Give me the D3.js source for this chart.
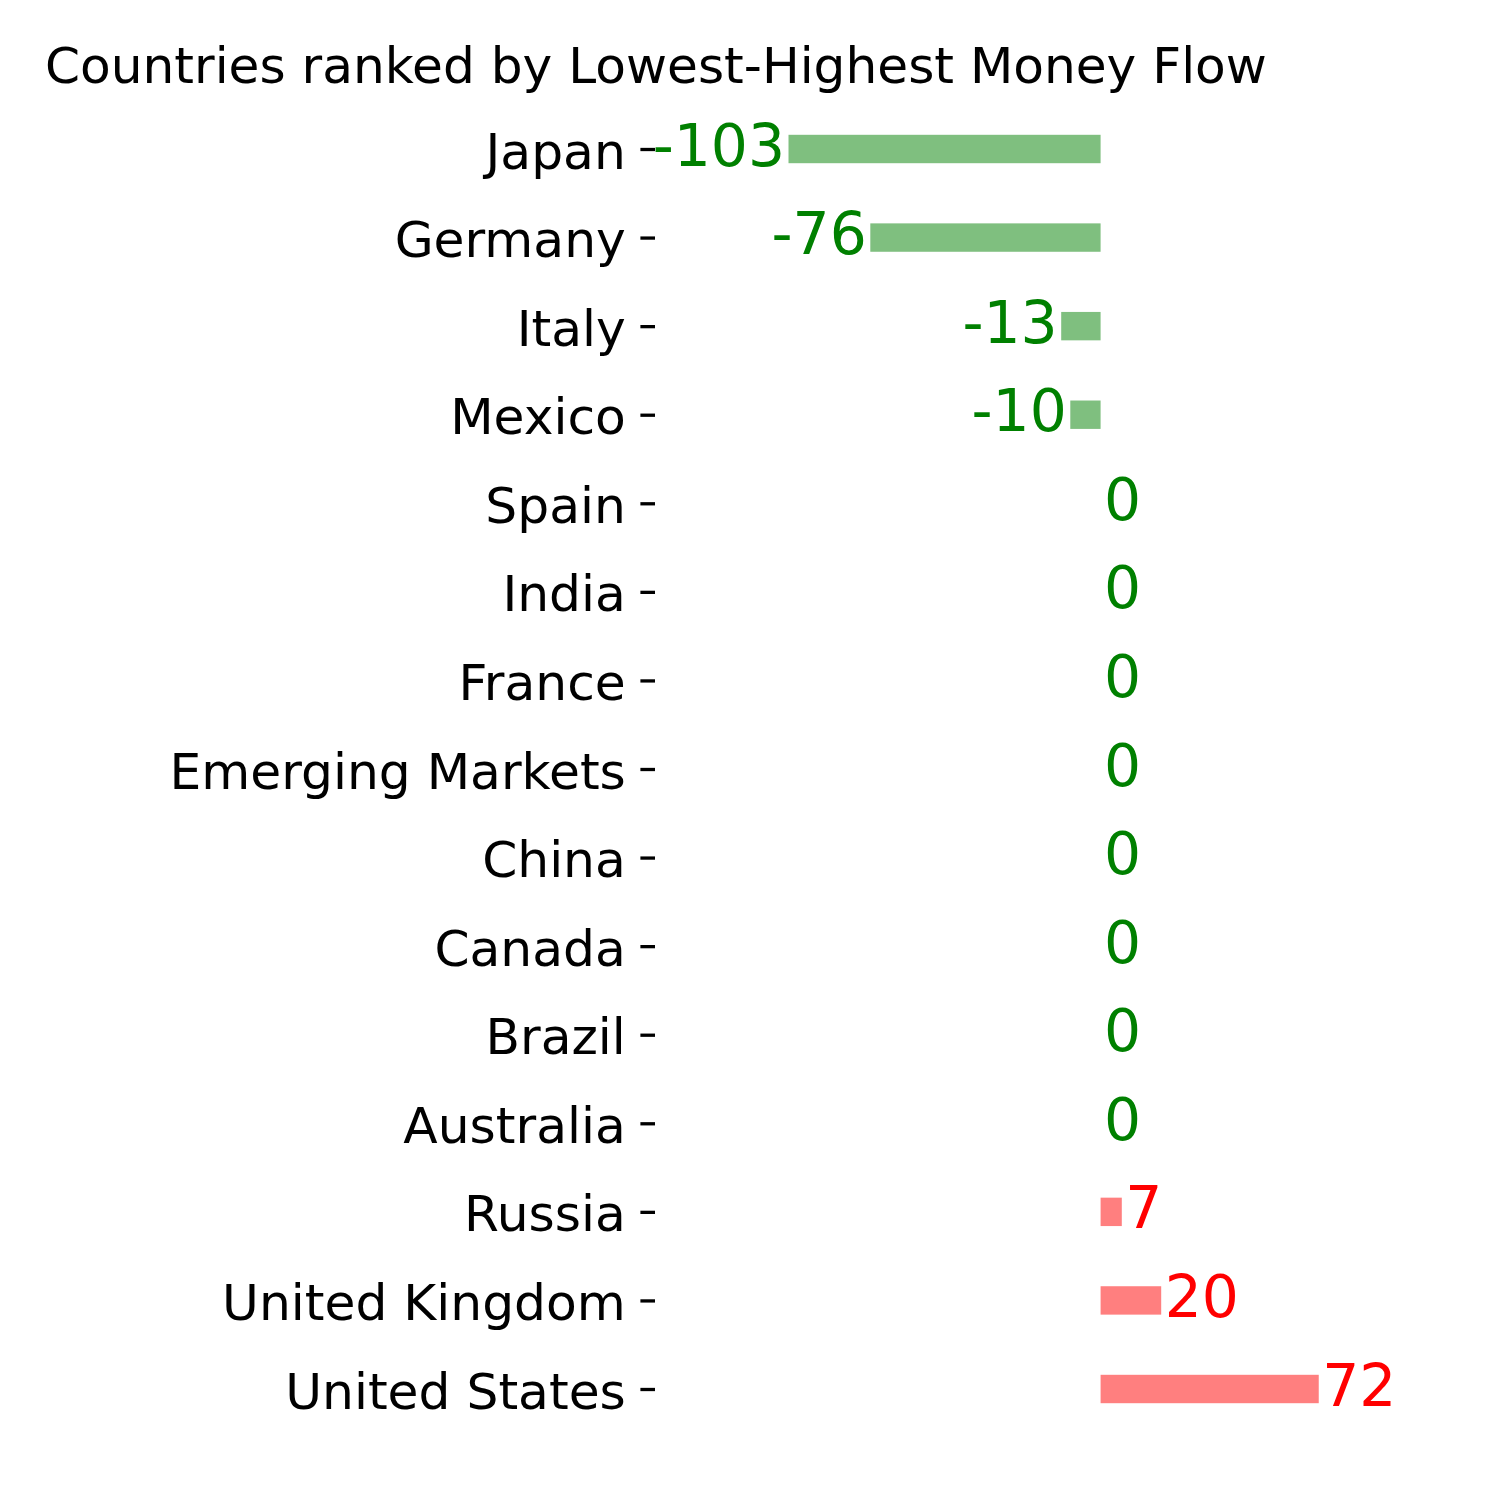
<!DOCTYPE html>
<html>
<head>
<meta charset="utf-8">
<script src="https://cdn.jsdelivr.net/npm/d3@7"></script>
<style>
  html, body { margin: 0; padding: 0; background: #ffffff; }
  svg { display: block; font-family: "DejaVu Sans", sans-serif; }
</style>
</head>
<body>
<script>
const titleText = "Countries ranked by Lowest-Highest Money Flow";
const countries = ["Japan", "Germany", "Italy", "Mexico", "Spain", "India", "France",
  "Emerging Markets", "China", "Canada", "Brazil", "Australia", "Russia",
  "United Kingdom", "United States"];
const values = [-103, -76, -13, -10, 0, 0, 0, 0, 0, 0, 0, 0, 7, 20, 72];

const W = 1500, H = 1500;
const svg = d3.select("body").append("svg").attr("width", W).attr("height", H);

svg.append("rect").attr("width", W).attr("height", H).attr("fill", "#ffffff");

const x = d3.scaleLinear().domain([-103, 72]).range([788.5, 1318.75]);
const y = d3.scalePoint().domain(countries).range([149, 1389]);
const barH = 28.4;

const data = countries.map((c, i) => ({ c, v: values[i] }));

// bars
svg.append("g").selectAll("rect").data(data).enter().append("rect")
  .attr("x", d => Math.min(x(0), x(d.v)))
  .attr("y", d => y(d.c) - barH / 2)
  .attr("width", d => Math.abs(x(d.v) - x(0)))
  .attr("height", barH)
  .attr("fill", d => d.v > 0 ? "#ff0000" : "#008000")
  .attr("fill-opacity", 0.5);

// value labels
svg.append("g").selectAll("text").data(data).enter().append("text")
  .attr("x", d => d.v < 0 ? x(d.v) - 3.5 : x(d.v) + 3.5)
  .attr("y", d => y(d.c) + 16.5)
  .attr("text-anchor", d => d.v < 0 ? "end" : "start")
  .attr("font-size", "58.3px")
  .attr("fill", d => d.v > 0 ? "#ff0000" : "#008000")
  .text(d => d.v);

// y axis
const yAxis = d3.axisLeft(y).tickSize(14.6).tickPadding(14.6);
const ag = svg.append("g").attr("transform", "translate(655,0)").call(yAxis);
ag.select(".domain").remove();
ag.selectAll(".tick line").attr("stroke", "#000").attr("stroke-width", 3.3);
ag.selectAll(".tick text")
  .attr("font-family", "DejaVu Sans, sans-serif")
  .attr("font-size", "50.3px")
  .attr("fill", "#000")
  .attr("dy", "0.38em");

// title
svg.append("text")
  .attr("x", 45).attr("y", 83)
  .attr("font-size", "50.2px")
  .attr("fill", "#000")
  .text(titleText);
</script>
</body>
</html>
